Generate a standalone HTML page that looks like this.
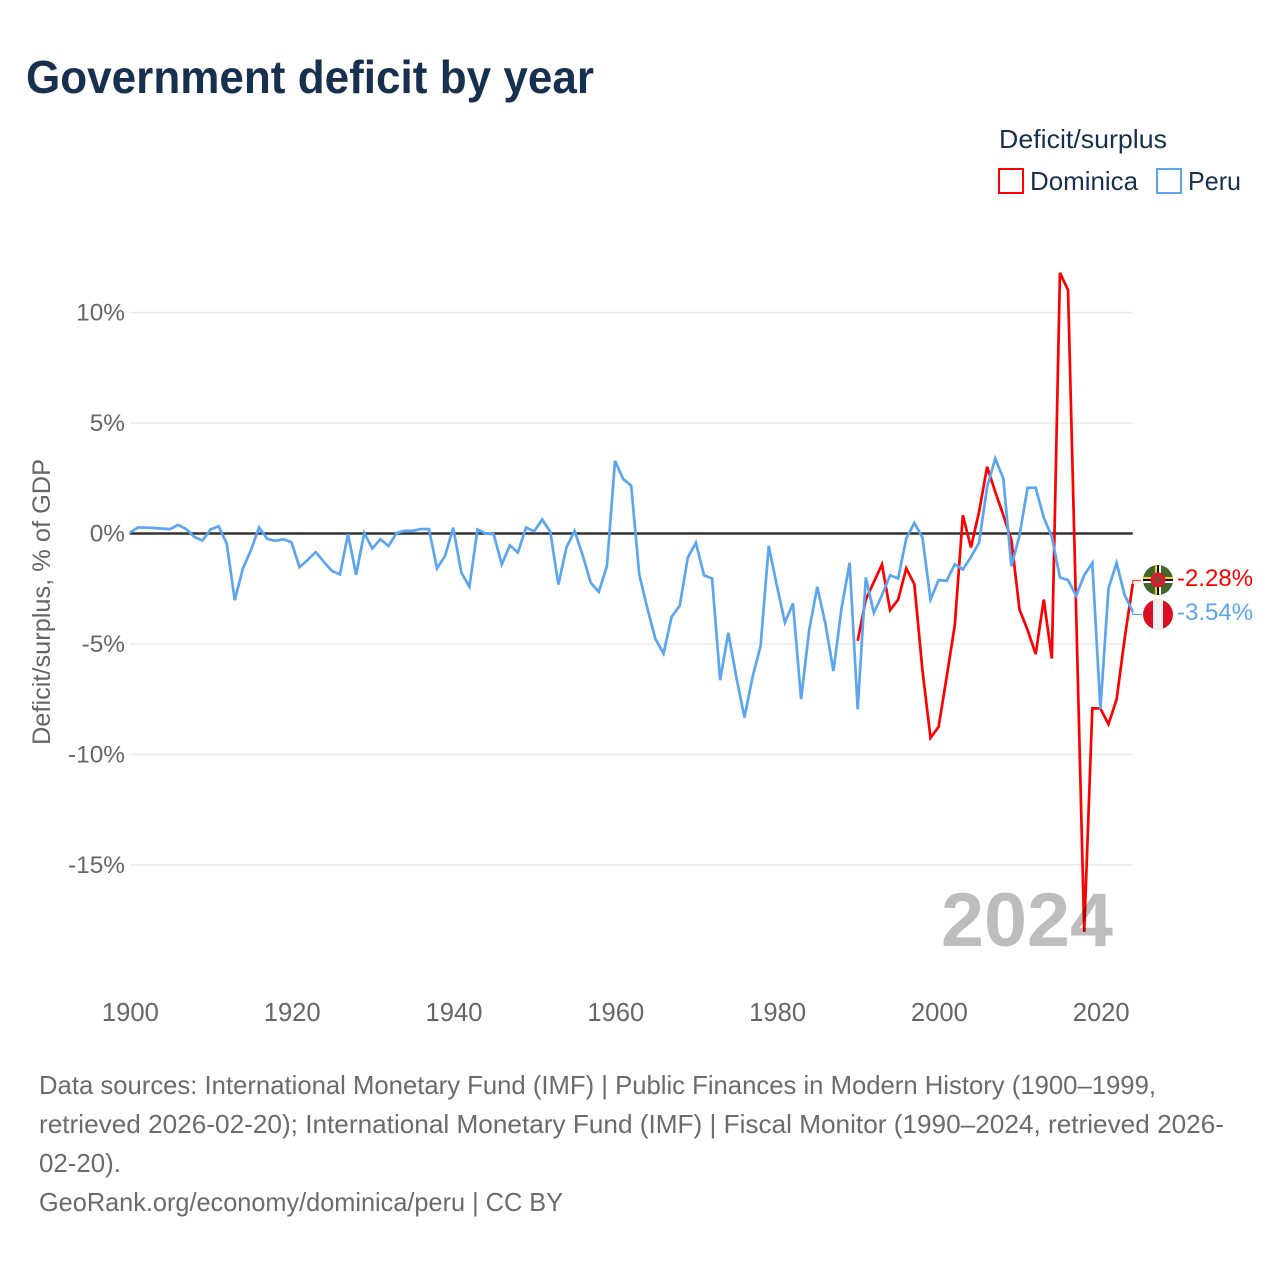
<!DOCTYPE html>
<html lang="en">
<head>
<meta charset="utf-8">
<title>Government deficit by year</title>
<style>
html,body{margin:0;padding:0;background:#fff;}
svg{display:block;font-family:"Liberation Sans",sans-serif;}
</style>
</head>
<body>
<svg id="chart" xmlns="http://www.w3.org/2000/svg" width="1280" height="1280" viewBox="0 0 1280 1280">
  <rect x="0" y="0" width="1280" height="1280" fill="#ffffff"/>
  <text x="26" y="93" font-size="46" font-weight="700" fill="#18304f" textLength="568" lengthAdjust="spacingAndGlyphs">Government deficit by year</text>

  <g>
    <text x="999" y="148" font-size="26" fill="#18304f" textLength="168" lengthAdjust="spacingAndGlyphs">Deficit/surplus</text>
    <rect x="999" y="169" width="24" height="24" fill="#ffffff" stroke="#ff0000" stroke-width="2"/>
    <text x="1030" y="190" font-size="26" fill="#18304f" textLength="108" lengthAdjust="spacingAndGlyphs">Dominica</text>
    <rect x="1157" y="169" width="24" height="24" fill="#ffffff" stroke="#5ba6ee" stroke-width="2"/>
    <text x="1188" y="190" font-size="26" fill="#18304f" textLength="53" lengthAdjust="spacingAndGlyphs">Peru</text>
  </g>

  <g id="grid"></g>
  <g id="yticks"></g>
  <g id="xticks"></g>
  <text transform="translate(50,745) rotate(-90)" x="0" y="0" font-size="25" fill="#666666" textLength="286" lengthAdjust="spacingAndGlyphs">Deficit/surplus, % of GDP</text>

  <g id="series"></g>

  <text x="941" y="946" font-size="76" font-weight="700" fill="#000000" fill-opacity="0.26" textLength="172" lengthAdjust="spacingAndGlyphs">2024</text>

  <g id="end-labels">
    <defs>
      <clipPath id="clip-dominica"><circle cx="1158" cy="580" r="15"/></clipPath>
      <clipPath id="clip-peru"><circle cx="1158" cy="614.5" r="15"/></clipPath>
    </defs>
    <g clip-path="url(#clip-dominica)">
      <rect x="1143" y="565" width="30" height="30" fill="#44682c"/>
      <rect x="1155" y="565" width="2" height="30" fill="#f5d02c"/>
      <rect x="1157" y="565" width="2" height="30" fill="#111111"/>
      <rect x="1159" y="565" width="2" height="30" fill="#ffffff"/>
      <rect x="1143" y="577" width="30" height="2" fill="#f5d02c"/>
      <rect x="1143" y="579" width="30" height="2" fill="#111111"/>
      <rect x="1143" y="581" width="30" height="2" fill="#ffffff"/>
      <circle cx="1158" cy="580" r="7.5" fill="#d41c30"/>
      <ellipse cx="1158" cy="580" rx="1.6" ry="3.5" fill="#44682c"/>
    </g>
    <g clip-path="url(#clip-peru)">
      <rect x="1143" y="599" width="30" height="31" fill="#d91023"/>
      <rect x="1153" y="599" width="10" height="31" fill="#f1f1f1"/>
    </g>
    <text id="label-dominica" x="1177" y="586" font-size="24" fill="#ff0000"></text>
    <text id="label-peru" x="1177" y="620" font-size="24" fill="#5ba6ee"></text>
  </g>

  <g font-size="26" fill="#6b6b6b">
    <text x="39" y="1094" textLength="1117" lengthAdjust="spacingAndGlyphs">Data sources: International Monetary Fund (IMF) | Public Finances in Modern History (1900–1999,</text>
    <text x="39" y="1133" textLength="1185" lengthAdjust="spacingAndGlyphs">retrieved 2026-02-20); International Monetary Fund (IMF) | Fiscal Monitor (1990–2024, retrieved 2026-</text>
    <text x="39" y="1172" textLength="82" lengthAdjust="spacingAndGlyphs">02-20).</text>
    <text x="39" y="1211" textLength="524" lengthAdjust="spacingAndGlyphs">GeoRank.org/economy/dominica/peru | CC BY</text>
  </g>
</svg>
<script>
const yTickValues = [10, 5, 0, -5, -10, -15];
const xTickYears = [1900, 1920, 1940, 1960, 1980, 2000, 2020];
const peruStartYear = 1900;
const peruValues = [
  0.03, 0.27, 0.27, 0.25, 0.22, 0.2, 0.39, 0.2, -0.15, -0.32,
  0.18, 0.33, -0.45, -3.02, -1.58, -0.75, 0.27, -0.24, -0.33, -0.26,
  -0.39, -1.52, -1.2, -0.84, -1.28, -1.69, -1.85, -0.03, -1.87, 0.02,
  -0.68, -0.26, -0.57, 0.02, 0.12, 0.12, 0.2, 0.2, -1.58, -1.01,
  0.26, -1.76, -2.41, 0.18, 0, -0.03, -1.4, -0.54, -0.86, 0.27,
  0.1, 0.63, 0.08, -2.31, -0.63, 0.12, -0.98, -2.23, -2.64, -1.48,
  3.29, 2.47, 2.17, -1.86, -3.39, -4.78, -5.43, -3.77, -3.27, -1.09,
  -0.42, -1.89, -2.04, -6.64, -4.49, -6.5, -8.33, -6.5, -5.08, -0.56,
  -2.34, -4.03, -3.17, -7.5, -4.37, -2.41, -4.07, -6.23, -3.39, -1.33,
  -7.96, -1.99, -3.59, -2.79, -1.89, -2.04, -0.23, 0.48, -0.18, -2.99,
  -2.11, -2.14, -1.39, -1.63, -1.06, -0.42, 2.11, 3.39, 2.49, -1.48,
  -0.08, 2.07, 2.07, 0.72, -0.15, -1.99, -2.11, -2.82, -1.89, -1.33,
  -7.95, -2.49, -1.33, -2.79, -3.54
];
const dominicaStartYear = 1990;
const dominicaValues = [
  -4.86, -2.99, -2.19, -1.4, -3.47, -2.99, -1.58, -2.29, -6.18, -9.25,
  -8.75, -6.49, -4.15, 0.83, -0.63, 0.98, 3.02, 1.89, 0.83, -0.3,
  -3.44, -4.37, -5.46, -2.99, -5.66, 11.8, 11.02, -3.5, -18.03, -7.91,
  -7.92, -8.63, -7.51, -4.75, -2.28
];

const SVG_NS = 'http://www.w3.org/2000/svg';
const xOfYear = function (year) { return 129.6 + (year - 1900) * 8.09; };
const yOfValue = function (value) { return 533.5 - value * 22.09; };
const plotLeft = xOfYear(1900);
const plotRight = xOfYear(2024);

function makeEl(tag, attrs) {
  const el = document.createElementNS(SVG_NS, tag);
  Object.keys(attrs).forEach(function (k) { el.setAttribute(k, attrs[k]); });
  return el;
}
function pointsFor(startYear, values) {
  return values.map(function (v, i) {
    return xOfYear(startYear + i).toFixed(2) + ',' + yOfValue(v).toFixed(2);
  }).join(' ');
}
function formatPercent(v) {
  return v.toFixed(2) + '%';
}

const grid = document.getElementById('grid');
const yTicks = document.getElementById('yticks');
yTickValues.forEach(function (v) {
  const line = makeEl('line', {
    x1: plotLeft, x2: plotRight, y1: yOfValue(v), y2: yOfValue(v),
    stroke: v === 0 ? '#333333' : '#ebebeb',
    'stroke-width': v === 0 ? 2.4 : 1.6
  });
  
  
  grid.appendChild(line);
  const label = makeEl('text', {
    x: 125, y: yOfValue(v) + 8, 'text-anchor': 'end', 'font-size': 24.4, fill: '#666666'
  });
  
  
  label.textContent = v + '%';
  yTicks.appendChild(label);
});

const xTicks = document.getElementById('xticks');
xTickYears.forEach(function (year) {
  const label = makeEl('text', {
    x: xOfYear(year) + 0.8, y: 1021, 'text-anchor': 'middle', 'font-size': 25.6, fill: '#666666'
  });
  
  
  label.textContent = year;
  xTicks.appendChild(label);
});

const series = document.getElementById('series');
const dominicaLine = makeEl('polyline', {
  points: pointsFor(dominicaStartYear, dominicaValues),
  fill: 'none', stroke: '#ff0000', 'stroke-width': 2.7, 'stroke-linejoin': 'miter'
});


series.appendChild(dominicaLine);

const peruLine = makeEl('polyline', {
  points: pointsFor(peruStartYear, peruValues),
  fill: 'none', stroke: '#5ba6ee', 'stroke-width': 2.7, 'stroke-linejoin': 'miter'
});


series.appendChild(peruLine);

const dominicaLast = dominicaValues[dominicaValues.length - 1];
const peruLast = peruValues[peruValues.length - 1];

const dominicaConnector = makeEl('polyline', {
  points: plotRight + ',' + yOfValue(dominicaLast) + ' ' + plotRight + ',580.5 1141,580.5',
  fill: 'none', stroke: '#ff0000', 'stroke-width': 1.2, opacity: 0.75
});


series.appendChild(dominicaConnector);

const peruConnector = makeEl('polyline', {
  points: plotRight + ',' + yOfValue(peruLast) + ' ' + plotRight + ',614.5 1142,614.5',
  fill: 'none', stroke: '#5ba6ee', 'stroke-width': 1.2
});


series.appendChild(peruConnector);

document.getElementById('label-dominica').textContent = formatPercent(dominicaLast);
document.getElementById('label-peru').textContent = formatPercent(peruLast);
</script>
</body>
</html>
